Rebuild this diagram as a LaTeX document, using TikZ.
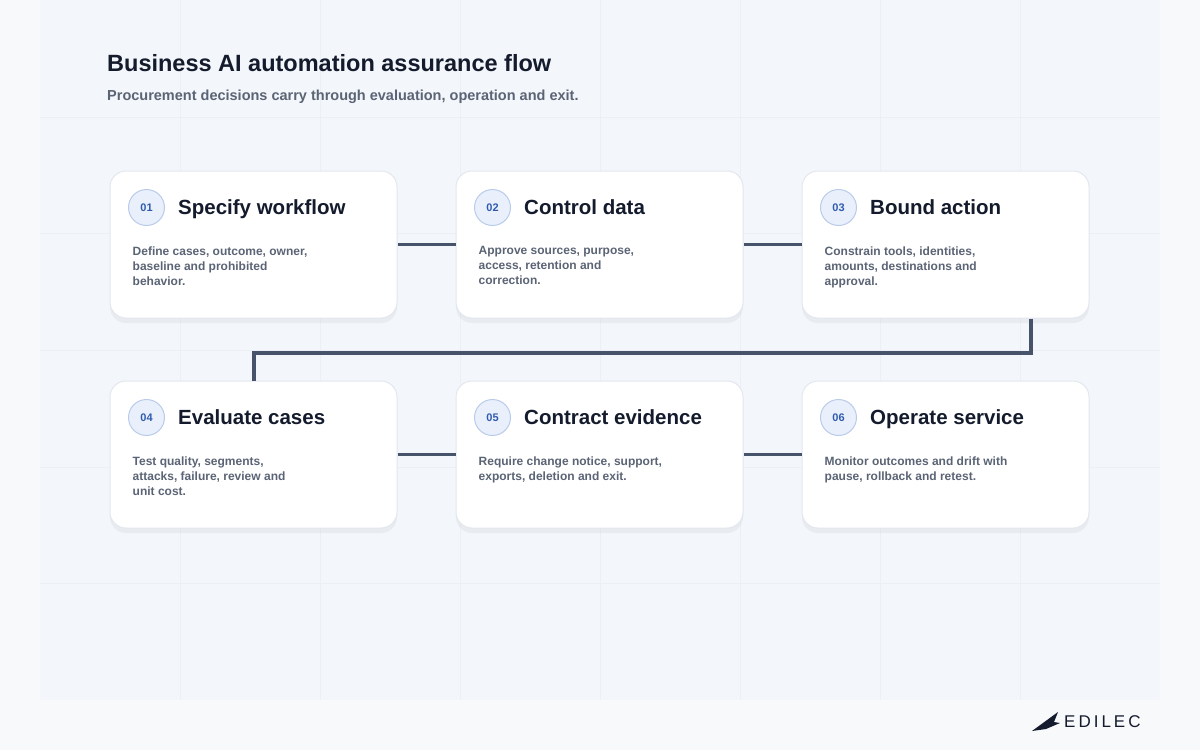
\documentclass[tikz,border=0pt]{standalone}
\usepackage{fontspec}
\setmainfont{Liberation Sans}
\usetikzlibrary{positioning,shadows}
\definecolor{pagebg}{HTML}{F8F9FB}
\definecolor{panelbg}{HTML}{F3F6FA}
\definecolor{gridln}{HTML}{ECEFF4}
\definecolor{cardln}{HTML}{E3E7EE}
\definecolor{ink}{HTML}{141B2D}
\definecolor{muted}{HTML}{5B6475}
\definecolor{linkc}{HTML}{46536A}
\definecolor{badge}{HTML}{EAF0FB}
\definecolor{badgeln}{HTML}{B9CBEA}
\definecolor{badgetx}{HTML}{2F5BAE}
\tikzset{
  card/.style={draw=cardln,line width=1pt,fill=white,rounded corners=16pt,minimum width=287pt,minimum height=147pt,
    drop shadow={shadow xshift=0pt,shadow yshift=-5pt,opacity=0.06,fill=linkc}},
  num/.style={circle,draw=badgeln,line width=1pt,fill=badge,minimum size=36pt,inner sep=0pt,
    font=\fontsize{11}{11}\selectfont\bfseries,text=badgetx},
  head/.style={anchor=base west,inner sep=0pt,font=\fontsize{20.5}{24}\selectfont\bfseries,text=ink},
  body/.style={anchor=north west,inner sep=0pt,align=left,font=\fontsize{12}{15}\selectfont\bfseries,text=muted},
  link/.style={draw=linkc,line width=3.5pt}
}
\begin{document}
\begin{tikzpicture}[x=1pt,y=-1pt]
\useasboundingbox (0,0) rectangle (1200,750);
\fill[pagebg] (0,0) rectangle (1200,750);
\fill[panelbg] (40,0) rectangle (1160,700);
\foreach \y in {117,233,350,467,583} \draw[gridln,line width=0.8pt] (40,\y) -- (1160,\y);
\foreach \x in {180,320,460,600,740,880,1020} \draw[gridln,line width=0.8pt] (\x,0) -- (\x,700);
\node[anchor=west,inner sep=0pt,font=\fontsize{23.5}{26}\selectfont\bfseries,text=ink] (title) at (107,63) {Business AI automation assurance flow};
\node[anchor=west,inner sep=0pt,font=\fontsize{14.5}{17}\selectfont\bfseries,text=muted] (sub) at (107,97) {Procurement decisions carry through evaluation, operation and exit.};
% cards
\foreach \i/\x/\y/\h/\t in {
  1/253.5/244.5/Specify workflow/{Define cases, outcome, owner,\\baseline and prohibited\\behavior.},
  2/599.5/244.5/Control data/{Approve sources, purpose,\\access, retention and\\correction.},
  3/945.5/244.5/Bound action/{Constrain tools, identities,\\amounts, destinations and\\approval.},
  4/253.5/454.5/Evaluate cases/{Test quality, segments,\\attacks, failure, review and\\unit cost.},
  5/599.5/454.5/Contract evidence/{Require change notice, support,\\exports, deletion and exit.},
  6/945.5/454.5/Operate service/{Monitor outcomes and drift with\\pause, rollback and retest.}} {
  \node[card] (c\i) at (\x,\y) {};
  \node[num] (n\i) at ([xshift=37pt,yshift=-37pt]c\i.north west) {0\i};
  \node[head] (h\i) at ([xshift=13pt,yshift=-7pt]n\i.east) {\h};
  \node[body] (b\i) at ([xshift=23pt,yshift=-76pt]c\i.north west) {\t};
}
% connectors
\draw[link] (c1.east) -- (c2.west);
\draw[link] (c2.east) -- (c3.west);
\draw[link] (c4.east) -- (c5.west);
\draw[link] (c5.east) -- (c6.west);
\coordinate (k1) at (1031,353);
\coordinate (k2) at (254,353);
\draw[link] (c3.south -| k1) -- (k1) -- (k2) -- (c4.north -| k2);
% logo
\fill[ink] (1032,731) -- (1058,712) -- (1054,722) -- (1060,723) -- (1046,729) -- cycle;
\node[anchor=west,inner sep=0pt,font=\fontsize{17}{17}\selectfont,text=ink] (logo) at (1064,722) {E\hspace{3pt}D\hspace{3pt}I\hspace{3pt}L\hspace{3pt}E\hspace{3pt}C};
\end{tikzpicture}
\end{document}
